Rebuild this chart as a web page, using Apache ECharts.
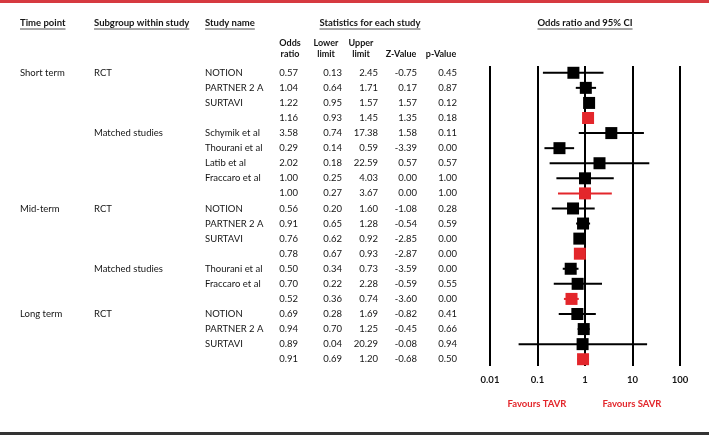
<!DOCTYPE html>
<html>
<head>
<meta charset="utf-8">
<script src="https://cdn.jsdelivr.net/npm/echarts@6/dist/echarts.min.js"></script>
<style>
html,body{margin:0;padding:0;background:#fff;}
#chart{width:709px;height:436px;}
</style>
</head>
<body>
<div id="chart"></div>
<script>
// ---- data ----
var timePoints = ['Short term','','','','','','','','','Mid-term','','','','','','','Long term','','',''];
var subgroups  = ['RCT','','','','Matched studies','','','','','RCT','','','','Matched studies','','','RCT','','',''];
var studies    = ['NOTION','PARTNER 2 A','SURTAVI','','Schymik et al','Thourani et al','Latib et al','Fraccaro et al','',
                  'NOTION','PARTNER 2 A','SURTAVI','','Thourani et al','Fraccaro et al','',
                  'NOTION','PARTNER 2 A','SURTAVI',''];
var oddsRatio  = [0.57,1.04,1.22,1.16,3.58,0.29,2.02,1.00,1.00,0.56,0.91,0.76,0.78,0.50,0.70,0.52,0.69,0.94,0.89,0.91];
var lowerLimit = [0.13,0.64,0.95,0.93,0.74,0.14,0.18,0.25,0.27,0.20,0.65,0.62,0.67,0.34,0.22,0.36,0.28,0.70,0.04,0.69];
var upperLimit = [2.45,1.71,1.57,1.45,17.38,0.59,22.59,4.03,3.67,1.60,1.28,0.92,0.93,0.73,2.28,0.74,1.69,1.25,20.29,1.20];
var zValue     = [-0.75,0.17,1.57,1.35,1.58,-3.39,0.57,0.00,0.00,-1.08,-0.54,-2.85,-2.87,-3.59,-0.59,-3.60,-0.82,-0.45,-0.08,-0.68];
var pValue     = [0.45,0.87,0.12,0.18,0.11,0.00,0.57,1.00,1.00,0.28,0.59,0.00,0.00,0.00,0.55,0.00,0.41,0.66,0.94,0.50];
var tickLabels = ['0.01','0.1','1','10','100'];
var headers    = ['Time point','Subgroup within study','Study name','Statistics for each study','Odds ratio and 95% CI'];
var statHeaders = [['Odds','ratio'],['Lower','limit'],['Upper','limit'],['','Z-Value'],['','p-Value']];
var favours    = ['Favours TAVR','Favours SAVR'];

// ---- styling / layout ----
var FONT = 'Lato';
var FS = 9.5;
var RED = '#e3262b';
var TXT = '#151515';
var row0 = 73, rowStep = 15.05;
function rowY(i){ return row0 + i*rowStep; }
var isPooled = studies.map(function(s){ return s === ''; });

var ctx = document.createElement('canvas').getContext('2d');
function textW(t, bold, size){ ctx.font = (bold?'bold ':'') + size + 'px ' + FONT; return ctx.measureText(t).width; }

var g = [];
function txt(x, y, t, align, bold, color, size){
  g.push({type:'text', x:x, y:y, silent:true,
    style:{text:t, x:0, y:0, textAlign:align||'left', textVerticalAlign:'middle',
      font:(bold?'bold ':'') + (size||FS) + 'px ' + FONT, fill:color||TXT}});
}
function line(x1,y1,x2,y2,color,w){
  g.push({type:'line', silent:true, shape:{x1:x1,y1:y1,x2:x2,y2:y2}, style:{stroke:color, lineWidth:w}});
}

// top/bottom rules
g.push({type:'rect', silent:true, shape:{x:0,y:0,width:709,height:3}, style:{fill:'#d63a40'}});
g.push({type:'rect', silent:true, shape:{x:0,y:432,width:709,height:3}, style:{fill:'#333333'}});

// headers with underline
var headerPos = [[20,'left'],[94,'left'],[205,'left'],[370,'center'],[585,'center']];
headers.forEach(function(h,i){
  var x = headerPos[i][0], a = headerPos[i][1];
  txt(x, 23, h, a, true, TXT, 9.5);
  var w = textW(h, true, 9.5);
  var x0 = a === 'center' ? x - w/2 : x;
  line(x0, 29, x0 + w, 29, '#8a8a8a', 1.5);
});
var statCenters = [290, 326, 361, 401, 441];
statHeaders.forEach(function(pair,i){
  if (pair[0]) txt(statCenters[i], 43, pair[0], 'center', true, TXT, 9);
  txt(statCenters[i], 54.5, pair[1], 'center', true, TXT, 9);
});

// table body
var statRight = [298, 342, 378, 417, 457];
for (var i = 0; i < studies.length; i++){
  var y = rowY(i);
  if (timePoints[i]) txt(20, y, timePoints[i], 'left');
  if (subgroups[i]) txt(94, y, subgroups[i], 'left');
  if (studies[i]) txt(205, y, studies[i], 'left');
  [oddsRatio[i], lowerLimit[i], upperLimit[i], zValue[i], pValue[i]].forEach(function(v,k){
    txt(statRight[k], y, v.toFixed(2), 'right');
  });
}

// favours labels
txt(537, 404, favours[0], 'center', true, RED, 9.5);
txt(632, 404, favours[1], 'center', true, RED, 9.5);

var chart = echarts.init(document.getElementById('chart'), null, {renderer:'canvas'});
chart.setOption({
  animation:false,
  backgroundColor:'#ffffff',
  grid:{left:490, right:29, top:66, bottom:70},
  xAxis:{
    type:'log', logBase:10, min:0.01, max:100,
    axisLine:{show:false}, axisTick:{show:false},
    splitLine:{show:true, lineStyle:{color:'#000', width:2}},
    axisLabel:{margin:9, color:TXT, fontFamily:FONT, fontWeight:'bold', fontSize:9.5,
      formatter:function(v, idx){ return tickLabels[idx] !== undefined ? tickLabels[idx] : ''; }}
  },
  yAxis:{type:'value', inverse:true, min:-0.45, max:19.45, show:false, splitLine:{show:false}},
  series:[
    {
      type:'custom',
      z:2,
      data: lowerLimit.map(function(l,i){ return [l, upperLimit[i], i]; }),
      renderItem:function(params, api){
        var i = api.value(2);
        var p1 = api.coord([api.value(0), i]);
        var p2 = api.coord([api.value(1), i]);
        return {type:'line', shape:{x1:p1[0], y1:p1[1], x2:p2[0], y2:p2[1]},
          style:{stroke: isPooled[i] ? RED : '#000', lineWidth:2}};
      },
      encode:{x:[0,1], y:2}
    },
    {
      type:'scatter',
      z:3,
      symbol:'rect',
      symbolSize:12,
      data: oddsRatio.map(function(v,i){
        return {value:[v,i], itemStyle:{color: isPooled[i] ? RED : '#000', opacity:1}};
      })
    }
  ],
  graphic: g
});
</script>
</body>
</html>
